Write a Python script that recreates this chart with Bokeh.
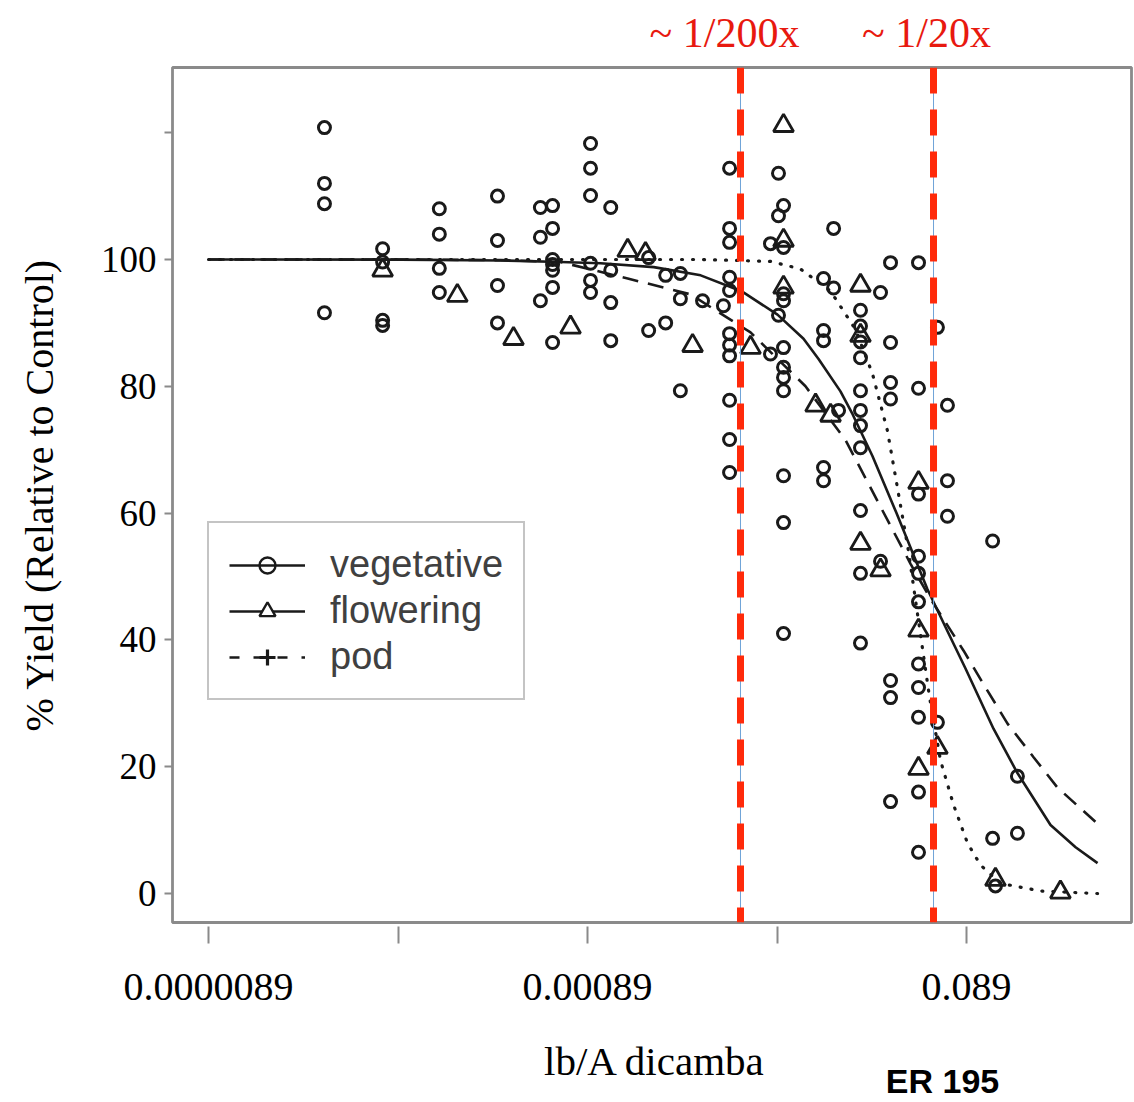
from bokeh.plotting import figure
from bokeh.layouts import column
from bokeh.models import Range1d, FixedTicker, Span, Legend, LegendItem
from bokeh.core.properties import value
from bokeh.embed import file_html
from bokeh.resources import INLINE

NAN = float("nan")

# ---------------- data ----------------
# vegetative stage observations: dose levels (lb/A) and yields (% of control)
veg_col_dose = [3.64e-5, 7.38e-5, 1.47e-4, 2.98e-4, 5.02e-4, 5.82e-4, 9.23e-4, 1.18e-3,
                1.87e-3, 2.30e-3, 2.75e-3, 3.60e-3, 4.64e-3, 5.00e-3, 8.22e-3, 9.06e-3,
                9.63e-3, 1.566e-2, 1.77e-2, 1.88e-2, 2.454e-2, 3.13e-2, 3.535e-2, 4.966e-2,
                6.25e-2, 7.06e-2, 0.1222, 0.1265, 0.1652]
veg_col_yield = [
    [120.8, 112.0, 108.8, 91.6],
    [101.7, 99.6, 90.4, 89.6],
    [108.0, 104.0, 98.6, 94.8],
    [110.0, 103.0, 95.9, 90.0],
    [108.2, 103.5, 93.5],
    [108.5, 104.9, 100.0, 99.2, 98.3, 95.6, 86.9],
    [118.3, 114.4, 110.1, 99.4, 96.7, 94.8],
    [108.2, 98.3, 93.2, 87.2],
    [100.3, 88.8],
    [97.5, 90.0],
    [97.8, 93.8, 79.3],
    [93.5],
    [92.7],
    [114.4, 104.9, 102.7, 97.2, 95.1, 88.3, 86.5, 84.8, 77.8, 71.6, 66.4],
    [102.5, 85.1],
    [113.6, 106.9, 91.2],
    [108.5, 101.9, 94.6, 93.5, 86.1, 83.0, 81.4, 79.3, 65.9, 58.5, 41.0],
    [97.0, 88.8, 87.2, 67.2, 65.1],
    [104.9, 95.5],
    [76.2],
    [92.0, 89.5, 87.0, 84.5, 79.3, 76.2, 73.8, 70.3, 60.4, 50.5, 39.5],
    [94.8, 52.4],
    [99.5, 86.9, 80.6, 78.0, 33.6, 30.9, 14.5],
    [99.5, 79.7, 63.0, 53.2, 50.5, 46.0, 36.2, 32.5, 27.8, 16.0, 6.5],
    [89.3, 27.0],
    [77.0, 65.1, 59.5],
    [55.6, 8.7],
    [1.2],
    [18.5, 9.5],
]

# flowering stage observations
flw_dose = [7.38e-5, 1.83e-4, 3.62e-4, 7.24e-4, 1.45e-3, 1.80e-3, 3.19e-3, 6.45e-3,
            9.63e-3, 9.63e-3, 9.63e-3, 1.422e-2, 1.706e-2, 2.454e-2, 2.454e-2, 2.454e-2,
            3.13e-2, 4.966e-2, 4.966e-2, 4.966e-2, 6.25e-2, 0.1265, 0.2786]
flw_yield = [98.3, 94.3, 87.5, 89.3, 101.4, 100.9, 86.4, 86.1,
             121.1, 103.0, 95.6, 77.0, 75.4, 95.9, 88.0, 55.2,
             51.0, 64.8, 41.5, 19.7, 23.0, 2.2, 0.2]

# fitted dose-response curves
veg_fit_dose = [8.9e-6, 9.2e-5, 3.09e-4, 6.41e-4, 1.042e-3, 1.99e-3, 3.52e-3, 5.78e-3,
                8.95e-3, 1.228e-2, 1.474e-2, 1.924e-2, 2.229e-2, 2.837e-2, 3.80e-2,
                5.536e-2, 6.90e-2, 8.79e-2, 0.1235, 0.1652, 0.247, 0.335, 0.4375]
veg_fit_yield = [100, 99.98, 99.85, 99.6, 99.4, 98.8, 97.5, 95.0, 91.3, 87.5, 84.3, 79.2,
                 75.6, 69.0, 60.0, 48.0, 42.0, 35.5, 26.0, 19.0, 10.8, 7.3, 4.8]

flw_fit_dose = [8.9e-6, 9.2e-5, 3.09e-4, 6.41e-4, 1.45e-3, 3.11e-3, 6.45e-3, 1.258e-2,
                2.046e-2, 3.13e-2, 4.508e-2, 5.741e-2, 8.59e-2, 0.1095, 0.1465, 0.201,
                0.269, 0.4375]
flw_fit_yield = [100, 100, 99.9, 99.6, 97.0, 94.5, 88.5, 80.0, 71.5, 61.0, 52.0, 46.5,
                 38.3, 33.0, 26.8, 21.5, 16.7, 11.0]

pod_fit_dose = [8.9e-6, 3.52e-3, 8.22e-3, 1.184e-2, 1.706e-2, 2.306e-2, 2.837e-2, 3.404e-2,
                3.844e-2, 4.396e-2, 4.966e-2, 5.675e-2, 6.486e-2, 7.598e-2, 8.995e-2,
                0.1054, 0.1345, 0.2188, 0.4375]
pod_fit_yield = [100, 100, 99.7, 98.5, 95.0, 89.0, 82.0, 73.0, 64.0, 54.0, 43.0, 31.0,
                 21.0, 14.0, 8.0, 4.5, 1.6, 0.4, 0.0]

# reference doses marked in red and their labels
red_dose = [5.71e-3, 5.96e-2]
red_text = ["~ 1/200x", "~ 1/20x"]

x_major = [8.9e-6, 8.9e-4, 8.9e-2]
x_major_labels = ["0.0000089", "0.00089", "0.089"]
x_minor = [8.9e-5, 8.9e-3]
y_major = [0, 20, 40, 60, 80, 100]
y_minor = [120]

series_names = ["vegetative", "flowering", "pod"]
x_title = "lb/A dicamba"
y_title = "% Yield (Relative to Control)"
note_text = "ER 195"

# ---------------- styling ----------------
INK = "#1a1a1a"
FRAME = "#8a8a8a"
SERIF = "Liberation Serif"
W = 1134
BL, BR = 172, 3

x_range = Range1d(5.744e-6, 0.6607)


def strip(height, y_end):
    f = figure(width=W, height=height, x_axis_type="log", x_range=x_range,
               y_range=Range1d(0, y_end), x_axis_location=None, y_axis_location=None,
               output_backend="svg", toolbar_location=None,
               min_border_left=BL, min_border_right=BR, min_border_top=0,
               min_border_bottom=0)
    f.grid.visible = False
    f.outline_line_color = None
    f.background_fill_color = "white"
    f.border_fill_color = "white"
    return f


# top strip with the red dose notes
top = strip(62, 1.0)
top.text(x=red_dose, y=[0.48, 0.48], text=red_text, x_offset=[-16, -7],
         text_align="center", text_baseline="middle", text_font=value(SERIF),
         text_font_size="42px", text_color="#e8190f")

# main plot
p = figure(width=W, height=970, x_axis_type="log", x_range=x_range,
           y_range=Range1d(-4.57, 130.28), output_backend="svg", toolbar_location=None,
           min_border_left=BL, min_border_right=BR, min_border_top=5,
           min_border_bottom=110)
p.grid.visible = False
p.background_fill_color = "white"
p.border_fill_color = "white"
p.outline_line_color = FRAME
p.outline_line_width = 2.8

xa = p.xaxis[0]
xa.ticker = FixedTicker(ticks=x_major, minor_ticks=x_minor)
xa.major_label_overrides = dict(zip(x_major, x_major_labels))
xa.axis_line_color = None
xa.major_tick_line_color = FRAME
xa.minor_tick_line_color = FRAME
xa.major_tick_line_width = 2
xa.minor_tick_line_width = 2
xa.major_tick_out = 21
xa.major_tick_in = -4
xa.minor_tick_out = 21
xa.minor_tick_in = -4
xa.major_label_text_font = SERIF
xa.major_label_text_font_size = "40px"
xa.major_label_text_color = "black"
xa.major_label_standoff = 30

ya = p.yaxis[0]
ya.ticker = FixedTicker(ticks=y_major, minor_ticks=y_minor)
ya.axis_line_color = None
ya.major_tick_line_color = FRAME
ya.minor_tick_line_color = FRAME
ya.major_tick_line_width = 2
ya.minor_tick_line_width = 2
ya.major_tick_out = 8
ya.major_tick_in = 0
ya.minor_tick_out = 8
ya.minor_tick_in = 0
ya.major_label_text_font = SERIF
ya.major_label_text_font_size = "37px"
ya.major_label_text_color = "black"
ya.major_label_standoff = 8
ya.axis_label = y_title
ya.axis_label_text_font = SERIF
ya.axis_label_text_font_size = "40px"
ya.axis_label_text_font_style = "normal"
ya.axis_label_text_color = "black"
ya.axis_label_standoff = 36

# fitted curves
p.line(veg_fit_dose, veg_fit_yield, line_color=INK, line_width=2.6)
p.line(flw_fit_dose, flw_fit_yield, line_color=INK, line_width=2.6, line_dash="16 10")
p.line(pod_fit_dose, pod_fit_yield, line_color=INK, line_width=3.2, line_dash="1 10",
       line_cap="round")

# observations
veg_dose = [d for d, ys in zip(veg_col_dose, veg_col_yield) for _ in ys]
veg_yield = [y for ys in veg_col_yield for y in ys]
p.scatter(veg_dose, veg_yield, marker="circle", size=12, fill_color=None,
          line_color=INK, line_width=3)
p.scatter(flw_dose, flw_yield, marker="triangle", size=20, fill_color=None,
          line_color=INK, line_width=2.8)

# red reference lines
for d in red_dose:
    p.add_layout(Span(location=d, dimension="height", line_color="#6fa3d8", line_width=1))
    p.add_layout(Span(location=d, dimension="height", line_color="#ff2a0a", line_width=7,
                      line_dash="26 16"))

# legend (legend-only glyphs, never inside the data area)
lv_line = p.line([NAN], [NAN], line_color=INK, line_width=2.6)
lv_mark = p.scatter([NAN], [NAN], marker="circle", fill_color=None, line_color=INK,
                    line_width=2.4)
lf_line = p.line([NAN], [NAN], line_color=INK, line_width=2.6)
lf_mark = p.scatter([NAN], [NAN], marker="triangle", fill_color="white", line_color=INK,
                    line_width=2.4)
lp_line = p.line([NAN], [NAN], line_color=INK, line_width=2.6, line_dash="10 14")
lp_mark = p.scatter([NAN], [NAN], marker="cross", fill_color=None, line_color=INK,
                    line_width=3.2)

legend = Legend(items=[
    LegendItem(label=series_names[0], renderers=[lv_line, lv_mark]),
    LegendItem(label=series_names[1], renderers=[lf_line, lf_mark]),
    LegendItem(label=series_names[2], renderers=[lp_line, lp_mark]),
], location=(35, 222))
legend.label_text_font = "Liberation Sans"
legend.label_text_font_size = "38px"
legend.label_text_color = "#404040"
legend.glyph_width = 76
legend.glyph_height = 40
legend.label_standoff = 25
legend.padding = 20
legend.spacing = 3
legend.border_line_color = FRAME
legend.border_line_width = 2
legend.background_fill_color = "white"
legend.background_fill_alpha = 1
legend.margin = 0
p.add_layout(legend)

# bottom strip with the x title and the note
bottom = strip(70, 70.0)
bottom.text(x=[1.948e-3], y=[42], text=[x_title], x_offset=[3], text_align="center",
            text_baseline="middle", text_font=value(SERIF), text_font_size="41px",
            text_color="black")
bottom.text(x=[red_dose[1]], y=[22], text=[note_text], x_offset=[9], text_align="center",
            text_baseline="middle", text_font=value("Liberation Sans"),
            text_font_style="bold", text_font_size="34px", text_color="black")

layout = column(top, p, bottom, spacing=0)
open("out.html", "w").write(file_html(layout, INLINE))
